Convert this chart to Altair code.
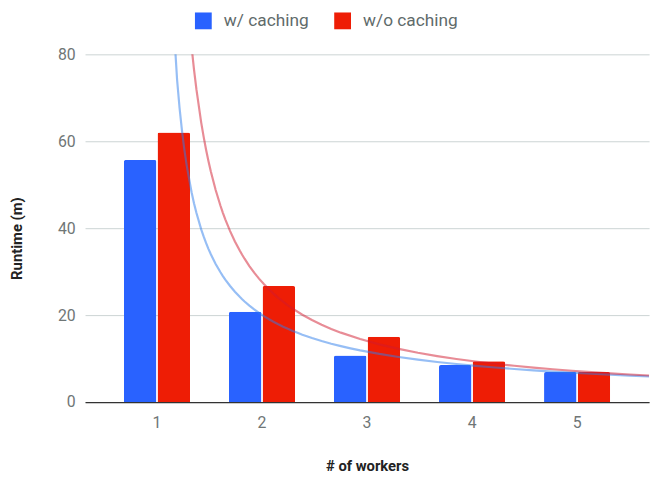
import altair as alt
import pandas as pd

workers = ["1", "2", "3", "4", "5"]
series_names = ["w/ caching", "w/o caching"]
with_caching = [55.7, 20.8, 10.7, 8.5, 6.9]
without_caching = [62.0, 26.7, 15.0, 9.4, 6.9]
y_ticks = [0, 20, 40, 60, 80]

bar_colors = ["#2962ff", "#ee1d05"]
trend_colors = ["#2d7deb", "#d1192d"]

rows = []
for i, w in enumerate(workers):
    rows.append({"workers": w, "idx": i, "series": series_names[0], "runtime": with_caching[i]})
    rows.append({"workers": w, "idx": i, "series": series_names[1], "runtime": without_caching[i]})
df = pd.DataFrame(rows)

y_enc = alt.Y(
    "runtime:Q",
    scale=alt.Scale(domain=[0, 80], nice=False),
    axis=alt.Axis(
        title="Runtime (m)",
        values=y_ticks,
        ticks=False,
        domain=False,
        grid=True,
        gridColor="#cbd3d3",
        labelColor="#6f7676",
        labelFontSize=16,
        labelPadding=10,
        titleFontSize=15,
        titleFontWeight="bold",
        titleColor="#222222",
        titleX=-69,
        titleY=186,
        titleBaseline="middle",
    ),
)

base = alt.Chart(df)

bars = base.mark_bar(cornerRadiusTopLeft=2, cornerRadiusTopRight=2).encode(
    x=alt.X(
        "workers:N",
        sort=workers,
        scale=alt.Scale(paddingInner=0.37, paddingOuter=0.37),
        axis=alt.Axis(
            title="# of workers",
            labelAngle=0,
            ticks=False,
            domainColor="#333333",
            domainWidth=1.3,
            labelColor="#6f7676",
            labelFontSize=16,
            labelPadding=13,
            titleFontSize=15,
            titleFontWeight="bold",
            titleColor="#222222",
            titleY=64,
            titleBaseline="middle",
        ),
    ),
    xOffset=alt.XOffset("series:N", sort=series_names, scale=alt.Scale(paddingInner=0.03)),
    y=y_enc,
    color=alt.Color(
        "series:N",
        sort=series_names,
        scale=alt.Scale(domain=series_names, range=bar_colors),
        legend=alt.Legend(
            title=None,
            orient="none",
            direction="horizontal",
            legendX=111,
            legendY=-43,
            symbolType="square",
            symbolSize=289,
            symbolStrokeWidth=0,
            labelFontSize=17.5,
            labelColor="#5f6b6b",
            labelOffset=12,
            columnPadding=25,
            padding=0,
        ),
    ),
)

trend = (
    base.transform_filter("datum.idx > 0")
    .transform_regression("idx", "runtime", method="pow", groupby=["series"], extent=[0.1, 4.685])
    .mark_line(clip=True, strokeWidth=2.2, opacity=0.5)
    .encode(
        x=alt.X("idx:Q", scale=alt.Scale(domain=[-0.685, 4.685], nice=False, zero=False), axis=None),
        y=y_enc,
        color=alt.Color(
            "series:N",
            scale=alt.Scale(domain=series_names, range=trend_colors),
            legend=None,
        ),
    )
)

chart = (
    alt.layer(bars, trend)
    .resolve_scale(x="independent", color="independent")
    .properties(
        width=571,
        height=352,
        autosize=alt.AutoSizeParams(type="none"),
        padding={"left": 78, "top": 44, "right": 6, "bottom": 75},
    )
    .configure(font="Roboto")
    .configure_view(stroke=None)
)

chart.save("out.html", embed_options={"renderer": "svg", "actions": False})
